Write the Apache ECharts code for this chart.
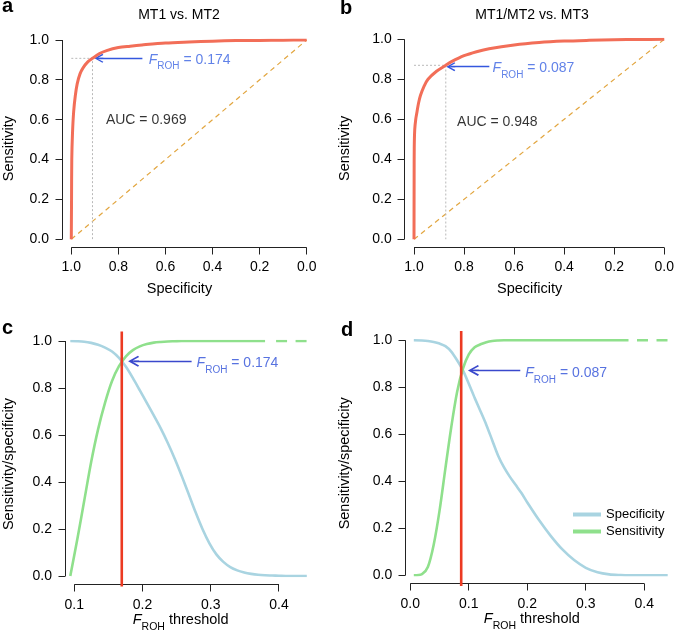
<!DOCTYPE html>
<html>
<head>
<meta charset="utf-8">
<script src="https://cdn.jsdelivr.net/npm/echarts@6/dist/echarts.min.js"></script>
<style>
  html, body { margin: 0; padding: 0; background: #fff; }
  #wrap { position: relative; width: 677px; height: 637px; }
  .panel { position: absolute; left: 0; top: 0; width: 677px; height: 637px; }
</style>
</head>
<body>
<div id="wrap">
  <div class="panel" id="pa"></div>
  <div class="panel" id="pb"></div>
  <div class="panel" id="pc"></div>
  <div class="panel" id="pd"></div>
</div>
<script>
// ---- data ----
// a: ROC MT1 vs. MT2 (specificity, sensitivity)
const rocA_spec = [1.0, 0.999, 0.998, 0.995, 0.99, 0.983, 0.975, 0.963, 0.95, 0.93, 0.91, 0.88, 0.85, 0.80, 0.75, 0.70, 0.60, 0.50, 0.40, 0.30, 0.20, 0.10, 0.0];
const rocA_sens = [0.0, 0.2, 0.4, 0.53, 0.64, 0.72, 0.78, 0.83, 0.86, 0.89, 0.908, 0.932, 0.947, 0.962, 0.969, 0.975, 0.985, 0.99, 0.994, 0.997, 0.998, 0.999, 1.0];
const cutA = { spec: 0.91, sens: 0.908, froh: '0.174', auc: '0.969' };

// b: ROC MT1/MT2 vs. MT3
const rocB_spec = [1.0, 0.9995, 0.999, 0.997, 0.993, 0.989, 0.982, 0.974, 0.96, 0.944, 0.91, 0.873, 0.85, 0.80, 0.75, 0.70, 0.60, 0.50, 0.40, 0.30, 0.20, 0.10, 0.0];
const rocB_sens = [0.0, 0.3, 0.46, 0.55, 0.6, 0.63, 0.68, 0.72, 0.765, 0.80, 0.84, 0.87, 0.888, 0.918, 0.938, 0.953, 0.972, 0.984, 0.991, 0.995, 0.998, 0.999, 1.0];
const cutB = { spec: 0.873, sens: 0.87, froh: '0.087', auc: '0.948' };

// c: sensitivity / specificity vs F_ROH threshold (MT1 vs MT2)
const thrC  = [0.10, 0.11, 0.12, 0.13, 0.14, 0.15, 0.16, 0.17, 0.18, 0.19, 0.20, 0.21, 0.22, 0.23, 0.24, 0.25, 0.26, 0.27, 0.28, 0.29, 0.30, 0.31, 0.32, 0.33, 0.34, 0.35, 0.36, 0.37, 0.38, 0.39, 0.40, 0.41, 0.42, 0.43, 0.44];
const specC = [1.0, 0.999, 0.997, 0.992, 0.984, 0.972, 0.955, 0.928, 0.89, 0.842, 0.79, 0.737, 0.683, 0.628, 0.567, 0.5, 0.427, 0.35, 0.272, 0.2, 0.139, 0.092, 0.06, 0.038, 0.024, 0.015, 0.009, 0.005, 0.003, 0.002, 0.001, 0, 0, 0, 0];
const sensC = [0.0, 0.155, 0.32, 0.485, 0.625, 0.738, 0.83, 0.893, 0.935, 0.961, 0.977, 0.987, 0.993, 0.996, 0.998, 0.999, 1, 1, 1, 1, 1, 1, 1, 1, 1, 1, 1, 1, 1];
const sensTailC = [0.3836, 0.44];   // dashed part of sensitivity (value stays 1)
const cutC = 0.174;

// d: sensitivity / specificity vs F_ROH threshold (MT1/MT2 vs MT3)
const thrD  = [0.006, 0.02, 0.03, 0.04, 0.05, 0.06, 0.07, 0.08, 0.09, 0.10, 0.11, 0.12, 0.13, 0.14, 0.15, 0.16, 0.17, 0.18, 0.19, 0.20, 0.22, 0.24, 0.26, 0.28, 0.30, 0.32, 0.34, 0.36, 0.373, 0.38, 0.40, 0.42, 0.44];
const specD = [1.0, 0.999, 0.997, 0.993, 0.986, 0.975, 0.952, 0.915, 0.872, 0.815, 0.755, 0.698, 0.64, 0.575, 0.51, 0.46, 0.42, 0.385, 0.35, 0.31, 0.235, 0.168, 0.11, 0.065, 0.032, 0.013, 0.004, 0.001, 0, 0, 0, 0, 0];
const sensD = [0.0, 0.005, 0.035, 0.13, 0.275, 0.455, 0.63, 0.78, 0.88, 0.94, 0.97, 0.983, 0.992, 0.997, 0.999, 1, 1, 1, 1, 1, 1, 1, 1, 1, 1, 1, 1, 1, 1];
const sensTailD = [0.373, 0.44];
const cutD = 0.087;

// tick values
const ticksUnit = [0, 0.2, 0.4, 0.6, 0.8, 1.0];
const ticksThrC = [0.1, 0.2, 0.3, 0.4];
const ticksThrD = [0, 0.1, 0.2, 0.3, 0.4];

const FONT = '"Liberation Sans", Arial, Helvetica, sans-serif';
const BLACK = '#000';
const ROC_COL = '#f26e58';
const DIAG_COL = '#e2a640';
const SPEC_COL = '#a9d4e1';
const SENS_COL = '#8fe08c';
const CUT_COL = '#ec3a22';
// open arrow head with a stem, pointing up (ECharts rotates it along the line)
const ARROW = 'path://M5,0 L10,9 L8.8,10 L5.6,4.2 L5.6,10 L4.4,10 L4.4,4.2 L1.2,10 L0,9 Z';

const zip = (xs, ys) => ys.map((y, i) => [xs[i], y]);

function frohRich(color, size) {
  return {
    f: { fontStyle: 'italic', fontSize: size, color: color, fontFamily: FONT, verticalAlign: 'top', lineHeight: 16 },
    s: { fontSize: size - 4, color: color, fontFamily: FONT, verticalAlign: 'top', lineHeight: 11, padding: [9, 0, 0, 0] },
    t: { fontSize: size, color: color, fontFamily: FONT, verticalAlign: 'top', lineHeight: 16 }
  };
}

// axis line and ticks are drawn separately (see axisFrame), ECharts keeps labels and names
function visibleParts() {
  return {
    axisLine: { show: false, onZero: false },
    axisTick: { show: false },
    axisLabel: { fontSize: 14, color: BLACK, fontFamily: FONT, margin: 13, formatter: v => v.toFixed(1) },
    splitLine: { show: false }
  };
}

function xAxisOf(grid, min, max, offset, name, inverse, pad) {
  return Object.assign({
    gridIndex: grid, type: 'value', min: min, max: max, interval: inverse ? 0.2 : 0.1,
    inverse: !!inverse, offset: offset,
    name: name, nameLocation: 'middle', nameGap: inverse ? 34 : 28,
    nameTextStyle: { fontSize: 14.5, color: BLACK, fontFamily: FONT, padding: pad, rich: frohRich(BLACK, 14.5) }
  }, visibleParts());
}

function yAxisOf(grid, offset, name, gap, pad) {
  return Object.assign({
    gridIndex: grid, type: 'value', min: 0, max: 1, interval: 0.2, offset: offset,
    name: name, nameLocation: 'middle', nameGap: gap,
    nameTextStyle: { fontSize: 14.5, color: BLACK, fontFamily: FONT, padding: pad }
  }, visibleParts());
}

// hidden axes of the data grids in c and d (they reach 0.44, past the drawn axis)
function hiddenX(grid, min, max) {
  return { gridIndex: grid, type: 'value', min: min, max: max, show: false, splitLine: { show: false } };
}
function hiddenY(grid) {
  return { gridIndex: grid, type: 'value', min: 0, max: 1, show: false, splitLine: { show: false } };
}

// text + arrow annotation (label anchored at its left edge, arrow drawn by markLine)
function annot(grid, textPos, text, textColor, arrowFrom, arrowTo, arrowColor, arrowSize, extra) {
  const data = [{
    value: textPos,
    label: { show: true, position: 'right', distance: 0, formatter: text, rich: frohRich(textColor, 14) }
  }];
  (extra || []).forEach(e => data.push({
    value: e.pos,
    label: { show: true, position: 'right', distance: 0, formatter: e.text, fontSize: 14, color: BLACK, fontFamily: FONT }
  }));
  return {
    type: 'scatter', xAxisIndex: grid, yAxisIndex: grid, symbolSize: 0, silent: true, z: 10,
    data: data,
    markLine: {
      silent: true, symbol: ['none', ARROW], symbolSize: arrowSize,
      label: { show: false },
      lineStyle: { color: arrowColor, width: 1.3, type: 'solid' },
      emphasis: { disabled: true },
      data: [[{ coord: arrowFrom }, { coord: arrowTo }]]
    }
  };
}

function rocSeries(grid, spec, sens, cut) {
  return [
    { type: 'line', xAxisIndex: grid, yAxisIndex: grid, data: [[1, 0], [0, 1]], showSymbol: false, silent: true,
      lineStyle: { color: DIAG_COL, width: 1.2, type: [5, 4] } },
    { type: 'line', xAxisIndex: grid, yAxisIndex: grid, data: [[1, cut.sens], [cut.spec, cut.sens], [cut.spec, 0]],
      showSymbol: false, silent: true, lineStyle: { color: '#b9b9b9', width: 1, type: [2, 2] } },
    { type: 'line', xAxisIndex: grid, yAxisIndex: grid, data: zip(spec, sens), showSymbol: false, silent: true,
      smooth: 0.3, lineStyle: { color: ROC_COL, width: 3 }, z: 5 }
  ];
}

function threshSeries(grid, thr, spec, sens, tail, cut) {
  return [
    { name: 'Specificity', type: 'line', xAxisIndex: grid, yAxisIndex: grid, data: zip(thr, spec),
      showSymbol: false, silent: true, smooth: 0.3, color: SPEC_COL, lineStyle: { color: SPEC_COL, width: 2.6 } },
    { name: 'Sensitivity', type: 'line', xAxisIndex: grid, yAxisIndex: grid, data: zip(thr, sens),
      showSymbol: false, silent: true, smooth: 0.3, color: SENS_COL, lineStyle: { color: SENS_COL, width: 2.6 } },
    { type: 'line', xAxisIndex: grid, yAxisIndex: grid, data: tail.map(x => [x, 1]),
      showSymbol: false, silent: true, lineStyle: { color: SENS_COL, width: 2.6, type: [11, 8.5], dashOffset: 11 } },
    { type: 'line', xAxisIndex: grid, yAxisIndex: grid, data: [[cut, -0.045], [cut, 1.04]],
      showSymbol: false, silent: true, clip: false, lineStyle: { color: CUT_COL, width: 2.6 }, z: 6 }
  ];
}

const sub = v => '{f|F}{s|ROH}{t| = ' + v + '}';
const letter = (t, x, y) => ({ type: 'text', style: { text: t, x: x, y: y, font: 'bold 20px ' + FONT, fill: '#000', verticalAlign: 'middle' } });
const heading = (t, x) => ({ type: 'text', style: { text: t, x: x, y: 15, font: '14px ' + FONT, fill: BLACK, align: 'center', verticalAlign: 'middle' } });

// R-style detached axes: line + outward ticks, placed from the chart's own scale
function axisFrame(chart, xTicks, yTicks, xOff, yOff) {
  const px = (x, y) => chart.convertToPixel({ gridIndex: 0 }, [x, y]);
  const crisp = v => Math.round(v - 0.5) + 0.5;
  const st = { stroke: '#222', lineWidth: 1 };
  const els = [];
  const xFirst = px(xTicks[0], 0)[0], xLast = px(xTicks[xTicks.length - 1], 0)[0];
  const yBottom = px(xTicks[0], 0)[1], yTop = px(xTicks[0], 1)[1];
  const ax = crisp(yBottom + xOff);
  const ay = crisp(Math.min(xFirst, xLast) - yOff);
  els.push({ type: 'line', silent: true, shape: { x1: xFirst, y1: ax, x2: xLast, y2: ax }, style: st });
  xTicks.forEach(t => {
    const x = crisp(px(t, 0)[0]);
    els.push({ type: 'line', silent: true, shape: { x1: x, y1: ax, x2: x, y2: ax + 7 }, style: st });
  });
  els.push({ type: 'line', silent: true, shape: { x1: ay, y1: yBottom, x2: ay, y2: yTop }, style: st });
  yTicks.forEach(t => {
    const y = crisp(px(xTicks[0], t)[1]);
    els.push({ type: 'line', silent: true, shape: { x1: ay - 7, y1: y, x2: ay, y2: y }, style: st });
  });
  return els;
}

function draw(id, opt, texts, xTicks, xOff, yOff) {
  const chart = echarts.init(document.getElementById(id));
  opt.animation = false;
  chart.setOption(opt);
  chart.setOption({ graphic: texts.concat(axisFrame(chart, xTicks, ticksUnit, xOff, yOff)) });
}

// one chart instance per panel, all laid over the same 677x637 area
draw('pa', {
  grid: [{ left: 70.3, top: 40, width: 236.4, height: 199.3 }],
  xAxis: [xAxisOf(0, 0, 1, 7.7, 'Specificity', true, [0, 19, 0, 0])],
  yAxis: [yAxisOf(0, 9.3, 'Sensitivity', 46, [0, 18, 0, 0])],
  series: rocSeries(0, rocA_spec, rocA_sens, cutA).concat([
    annot(0, [0.671, 0.896], sub(cutA.froh), '#3a63e2', [0.698, 0.908], [0.883, 0.908], '#3457de', 9,
      [{ pos: [0.853, 0.599], text: 'AUC = ' + cutA.auc }])
  ])
}, [letter('a', 2, 6), heading('MT1 vs. MT2', 179)], ticksUnit, 7.7, 9.3);

draw('pb', {
  grid: [{ left: 414, top: 39.3, width: 253.7, height: 200 }],
  xAxis: [xAxisOf(0, 0, 1, 7.7, 'Specificity', true, [0, 19, 0, 0])],
  yAxis: [yAxisOf(0, 9.3, 'Sensitivity', 52, [0, 18, 0, 0])],
  series: rocSeries(0, rocB_spec, rocB_sens, cutB).concat([
    annot(0, [0.686, 0.849], sub(cutB.froh), '#3a63e2', [0.699, 0.863], [0.853, 0.863], '#3457de', 9,
      [{ pos: [0.828, 0.588], text: 'AUC = ' + cutB.auc }])
  ])
}, [letter('b', 340, 8), heading('MT1/MT2 vs. MT3', 532)], ticksUnit, 7.7, 9.3);

draw('pc', {
  grid: [
    { left: 70.3, top: 341, width: 208.7, height: 235 },   // axis frame 0.1-0.4
    { left: 70.3, top: 341, width: 236.5, height: 235 }    // data area to 0.44
  ],
  xAxis: [xAxisOf(0, 0.1, 0.4, 8.7, '{f|F}{s|ROH}{t| threshold}', false, [0, 0, 0, 8]), hiddenX(1, 0.1, 0.44)],
  yAxis: [yAxisOf(0, 9.3, 'Sensitivity/specificity', 49, [0, 11, 0, 0]), hiddenY(1)],
  series: threshSeries(1, thrC, specC, sensC, sensTailC, cutC).concat([
    annot(1, [0.2816, 0.902], sub(cutC.toFixed(3)), '#2d4fd8', [0.2744, 0.914], [0.191, 0.914], '#3a48cc', 11)
  ])
}, [letter('c', 2, 328)], ticksThrC, 8.7, 9.3);

draw('pd', {
  legend: {
    data: ['Specificity', 'Sensitivity'],
    orient: 'vertical', left: 568, top: 503, itemWidth: 28, itemHeight: 4, itemGap: 4,
    icon: 'rect', selectedMode: false,
    textStyle: { fontSize: 13, color: BLACK, fontFamily: FONT }
  },
  grid: [
    { left: 410.3, top: 340.3, width: 234, height: 235 },  // axis frame 0.0-0.4
    { left: 410.3, top: 340.3, width: 257.4, height: 235 } // data area to 0.44
  ],
  xAxis: [xAxisOf(0, 0, 0.4, 8.4, '{f|F}{s|ROH}{t| threshold}', false, [0, 0, 0, 9]), hiddenX(1, 0, 0.44)],
  yAxis: [yAxisOf(0, 5, 'Sensitivity/specificity', 52.5, [0, 11, 0, 0]), hiddenY(1)],
  series: threshSeries(1, thrD, specD, sensD, sensTailD, cutD).concat([
    annot(1, [0.1966, 0.857], sub(cutD.toFixed(3)), '#2d4fd8', [0.188, 0.872], [0.108, 0.872], '#3a48cc', 11)
  ])
}, [letter('d', 341, 330)], ticksThrD, 8.4, 5);
</script>
</body>
</html>
